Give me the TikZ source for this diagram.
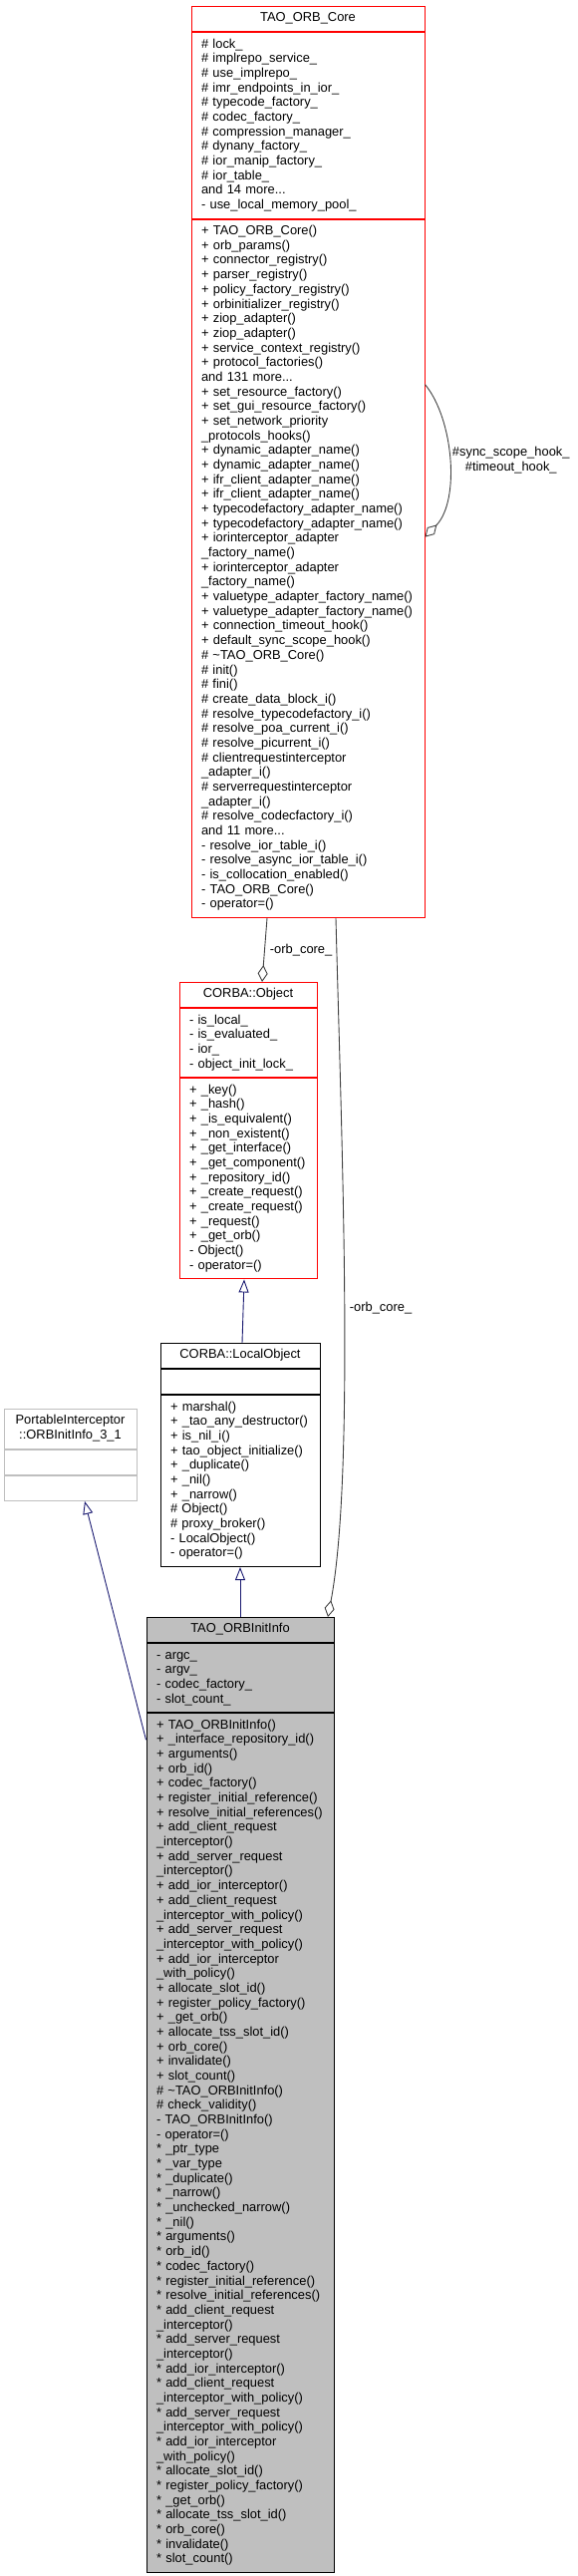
\documentclass[tikz,border=0pt]{standalone}
\usepackage{fontspec}
\setmainfont{Liberation Sans}
\usetikzlibrary{arrows.meta,positioning}

\definecolor{midnight}{HTML}{191970}
\definecolor{grey25}{HTML}{404040}
\definecolor{grey75}{HTML}{BFBFBF}
\newcommand{\umlfont}{\fontsize{12.9}{14.68}\selectfont}

\begin{document}
\begin{tikzpicture}[
    x=1pt, y=-1pt,
    every node/.style = { font=\umlfont },
    compartment/.style = { draw, line width=1pt, inner xsep=10pt, inner ysep=5.2pt,
        text width=#1, execute at begin node=\strut, execute at end node=\strut },
    classtitle/.style = { compartment=#1, align=center, anchor=north },
    classbody/.style = { compartment=#1, align=left },
    inherit/.style = { draw=midnight, line width=0.9pt, -{Triangle[open, length=13pt, width=10pt]} },
    aggr/.style = { draw=grey25, line width=0.9pt, -{Diamond[open, length=17pt, width=10pt]} },
    edgelabel/.style = { inner sep=3pt, align=center },
    ]

    \useasboundingbox (0,0) rectangle (580,2584);

    % TAO_ORB_Core
    \node[classtitle=214pt, draw=red] (coreTitle) at (309,6) {TAO\_ORB\_Core};
    \node[classbody=214pt, draw=red, below=0pt of coreTitle] (coreAttr) {%
        \#~lock\_\\ \#~implrepo\_service\_\\ \#~use\_implrepo\_\\
        \#~imr\_endpoints\_in\_ior\_\\ \#~typecode\_factory\_\\ \#~codec\_factory\_\\
        \#~compression\_manager\_\\ \#~dynany\_factory\_\\ \#~ior\_manip\_factory\_\\
        \#~ior\_table\_\\ and 14 more...\\ -~use\_local\_memory\_pool\_};
    \node[classbody=214pt, draw=red, below=0pt of coreAttr] (coreMeth) {%
        +~TAO\_ORB\_Core()\\ +~orb\_params()\\ +~connector\_registry()\\
        +~parser\_registry()\\ +~policy\_factory\_registry()\\ +~orbinitializer\_registry()\\
        +~ziop\_adapter()\\ +~ziop\_adapter()\\ +~service\_context\_registry()\\
        +~protocol\_factories()\\ and 131 more...\\ +~set\_resource\_factory()\\
        +~set\_gui\_resource\_factory()\\ +~set\_network\_priority\\ \_protocols\_hooks()\\
        +~dynamic\_adapter\_name()\\ +~dynamic\_adapter\_name()\\
        +~ifr\_client\_adapter\_name()\\ +~ifr\_client\_adapter\_name()\\
        +~typecodefactory\_adapter\_name()\\ +~typecodefactory\_adapter\_name()\\
        +~iorinterceptor\_adapter\\ \_factory\_name()\\
        +~iorinterceptor\_adapter\\ \_factory\_name()\\
        +~valuetype\_adapter\_factory\_name()\\ +~valuetype\_adapter\_factory\_name()\\
        +~connection\_timeout\_hook()\\ +~default\_sync\_scope\_hook()\\
        \#~\textasciitilde TAO\_ORB\_Core()\\ \#~init()\\ \#~fini()\\
        \#~create\_data\_block\_i()\\ \#~resolve\_typecodefactory\_i()\\
        \#~resolve\_poa\_current\_i()\\ \#~resolve\_picurrent\_i()\\
        \#~clientrequestinterceptor\\ \_adapter\_i()\\
        \#~serverrequestinterceptor\\ \_adapter\_i()\\
        \#~resolve\_codecfactory\_i()\\ and 11 more...\\
        -~resolve\_ior\_table\_i()\\ -~resolve\_async\_ior\_table\_i()\\
        -~is\_collocation\_enabled()\\ -~TAO\_ORB\_Core()\\ -~operator=()};

    % CORBA::Object
    \node[classtitle=118pt, draw=red] (objTitle) at (249,985) {CORBA::Object};
    \node[classbody=118pt, draw=red, below=0pt of objTitle] (objAttr) {%
        -~is\_local\_\\ -~is\_evaluated\_\\ -~ior\_\\ -~object\_init\_lock\_};
    \node[classbody=118pt, draw=red, below=0pt of objAttr] (objMeth) {%
        +~\_key()\\ +~\_hash()\\ +~\_is\_equivalent()\\ +~\_non\_existent()\\
        +~\_get\_interface()\\ +~\_get\_component()\\ +~\_repository\_id()\\
        +~\_create\_request()\\ +~\_create\_request()\\ +~\_request()\\
        +~\_get\_orb()\\ -~Object()\\ -~operator=()};

    % CORBA::LocalObject
    \node[classtitle=140pt] (locTitle) at (241,1347) {CORBA::LocalObject};
    \node[classbody=140pt, below=0pt of locTitle] (locAttr) {};
    \node[classbody=140pt, below=0pt of locAttr] (locMeth) {%
        +~marshal()\\ +~\_tao\_any\_destructor()\\ +~is\_nil\_i()\\
        +~tao\_object\_initialize()\\ +~\_duplicate()\\ +~\_nil()\\ +~\_narrow()\\
        \#~Object()\\ \#~proxy\_broker()\\ -~LocalObject()\\ -~operator=()};

    % PortableInterceptor::ORBInitInfo_3_1
    \node[classtitle=113pt, draw=grey75] (piTitle) at (70.5,1413) {PortableInterceptor\\::ORBInitInfo\_3\_1};
    \node[classbody=113pt, draw=grey75, below=0pt of piTitle] (piAttr) {};
    \node[classbody=113pt, draw=grey75, below=0pt of piAttr] (piMeth) {};

    % TAO_ORBInitInfo
    \node[classtitle=168pt, fill=grey75] (infoTitle) at (241,1622) {TAO\_ORBInitInfo};
    \node[classbody=168pt, fill=grey75, below=0pt of infoTitle] (infoAttr) {%
        -~argc\_\\ -~argv\_\\ -~codec\_factory\_\\ -~slot\_count\_};
    \node[classbody=168pt, fill=grey75, below=0pt of infoAttr] (infoMeth) {%
        +~TAO\_ORBInitInfo()\\ +~\_interface\_repository\_id()\\ +~arguments()\\
        +~orb\_id()\\ +~codec\_factory()\\ +~register\_initial\_reference()\\
        +~resolve\_initial\_references()\\
        +~add\_client\_request\\ \_interceptor()\\
        +~add\_server\_request\\ \_interceptor()\\
        +~add\_ior\_interceptor()\\
        +~add\_client\_request\\ \_interceptor\_with\_policy()\\
        +~add\_server\_request\\ \_interceptor\_with\_policy()\\
        +~add\_ior\_interceptor\\ \_with\_policy()\\
        +~allocate\_slot\_id()\\ +~register\_policy\_factory()\\ +~\_get\_orb()\\
        +~allocate\_tss\_slot\_id()\\ +~orb\_core()\\ +~invalidate()\\ +~slot\_count()\\
        \#~\textasciitilde TAO\_ORBInitInfo()\\ \#~check\_validity()\\
        -~TAO\_ORBInitInfo()\\ -~operator=()\\
        {*}~\_ptr\_type\\ {*}~\_var\_type\\ {*}~\_duplicate()\\ {*}~\_narrow()\\
        {*}~\_unchecked\_narrow()\\ {*}~\_nil()\\ {*}~arguments()\\ {*}~orb\_id()\\
        {*}~codec\_factory()\\ {*}~register\_initial\_reference()\\
        {*}~resolve\_initial\_references()\\
        {*}~add\_client\_request\\ \_interceptor()\\
        {*}~add\_server\_request\\ \_interceptor()\\
        {*}~add\_ior\_interceptor()\\
        {*}~add\_client\_request\\ \_interceptor\_with\_policy()\\
        {*}~add\_server\_request\\ \_interceptor\_with\_policy()\\
        {*}~add\_ior\_interceptor\\ \_with\_policy()\\
        {*}~allocate\_slot\_id()\\ {*}~register\_policy\_factory()\\ {*}~\_get\_orb()\\
        {*}~allocate\_tss\_slot\_id()\\ {*}~orb\_core()\\ {*}~invalidate()\\ {*}~slot\_count()};

    % relations
    \draw[aggr] ([yshift=-166pt]coreMeth.north east) .. controls (455,420) and (462,502) ..
        node[edgelabel, right] {\#sync\_scope\_hook\_\\\#timeout\_hook\_}
        ([yshift=-319pt]coreMeth.north east);
    \draw[aggr] ([xshift=-41pt]coreMeth.south) -- node[edgelabel, right, inner sep=5pt] {-orb\_core\_}
        ([xshift=14pt]objTitle.north);
    \draw[aggr] ([xshift=28pt]coreMeth.south) .. controls (343,1150) and (356,1480) ..
        node[edgelabel, pos=0.51, right, inner sep=5pt] {-orb\_core\_}
        ([xshift=88pt]infoTitle.north);
    \draw[inherit] ([xshift=2pt]locTitle.north) -- ([xshift=-4pt]objMeth.south);
    \draw[inherit] (infoTitle.north) -- (locMeth.south);
    \draw[inherit] ([yshift=-27pt]infoMeth.north west) -- ([xshift=14.5pt]piMeth.south);

\end{tikzpicture}
\end{document}
